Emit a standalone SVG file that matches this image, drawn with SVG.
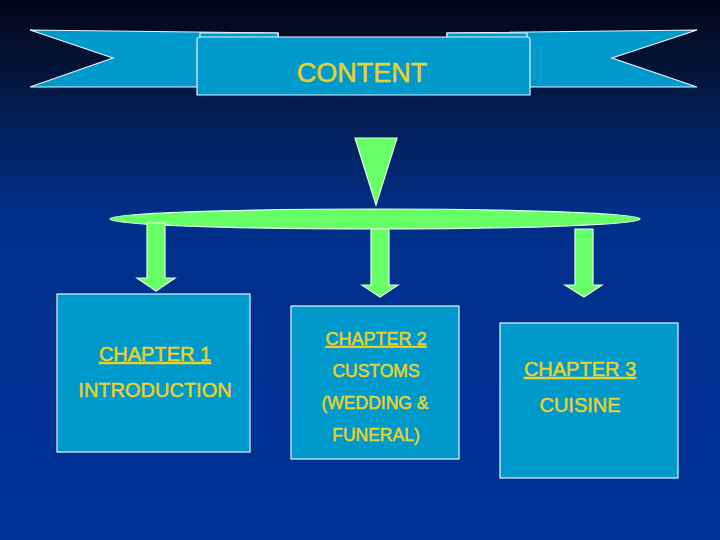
<svg xmlns="http://www.w3.org/2000/svg" width="720" height="540" viewBox="0 0 720 540">
<defs>
<linearGradient id="bg" x1="0" y1="0" x2="0" y2="1">
<stop offset="0" stop-color="#010615"/>
<stop offset="0.15" stop-color="#04163f"/>
<stop offset="0.4" stop-color="#00308a"/>
<stop offset="1" stop-color="#003399"/>
</linearGradient>
<style>
.rib{fill:#0099cc;stroke:#e8f4ff;stroke-width:1.2}
.grn{fill:#66ff66;stroke:#e8ffe8;stroke-width:1.2}
.box{fill:#0099cc;stroke:#e8f4ff;stroke-width:1.2}
.t{fill:#e6d228;stroke:#e6d228;stroke-width:0.5;font-family:"Liberation Sans",Arial,sans-serif;text-anchor:middle}
.u{text-decoration:underline}
</style>
</defs>
<rect width="720" height="540" fill="url(#bg)"/>
<g id="banner">
<polygon class="rib" points="30,30 278,33 278,87 30,87 113,58"/>
<polygon class="rib" points="697,30 447,33 447,87 697,87 612,58"/>
<path class="rib" d="M200,33 L278,33 L278,38 L200,38 Z"/>
<path class="rib" d="M447,33 L527,33 L527,38 L447,38 Z"/>
<path class="rib" d="M197,40 Q197,37 201,37 L527,37 Q530,37 530,40 L530,95 L197,95 Z"/>
<text class="t" x="362" y="82" font-size="27">CONTENT</text>
</g>
<g id="connectors">
<polygon class="grn" points="355,138 397,138 376,205"/>
<ellipse class="grn" cx="375" cy="219" rx="265" ry="10"/>
<polygon class="grn" points="147,223 165,223 165,278 175,278 156,291 137,278 147,278"/>
<polygon class="grn" points="371,229 389,229 389,285 398,285 380,297 362,285 371,285"/>
<polygon class="grn" points="575,229 593,229 593,285 602,285 584,297 565,285 575,285"/>
</g>
<g id="chapter1">
<rect class="box" x="57" y="294" width="193" height="158"/>
<text class="t u" x="155" y="361" font-size="20">CHAPTER 1</text>
<text class="t" x="155" y="397" font-size="20">INTRODUCTION</text>
</g>
<g id="chapter2">
<rect class="box" x="291" y="306" width="168" height="153"/>
<text class="t u" x="376" y="345" font-size="18">CHAPTER 2</text>
<text class="t" x="376" y="377" font-size="17.5">CUSTOMS</text>
<text class="t" x="375" y="409" font-size="17.5">(WEDDING &amp;</text>
<text class="t" x="376" y="441" font-size="17.5">FUNERAL)</text>
</g>
<g id="chapter3">
<rect class="box" x="500" y="323" width="178" height="155"/>
<text class="t u" x="580" y="376" font-size="20">CHAPTER 3</text>
<text class="t" x="580" y="412" font-size="20">CUISINE</text>
</g>
</svg>
